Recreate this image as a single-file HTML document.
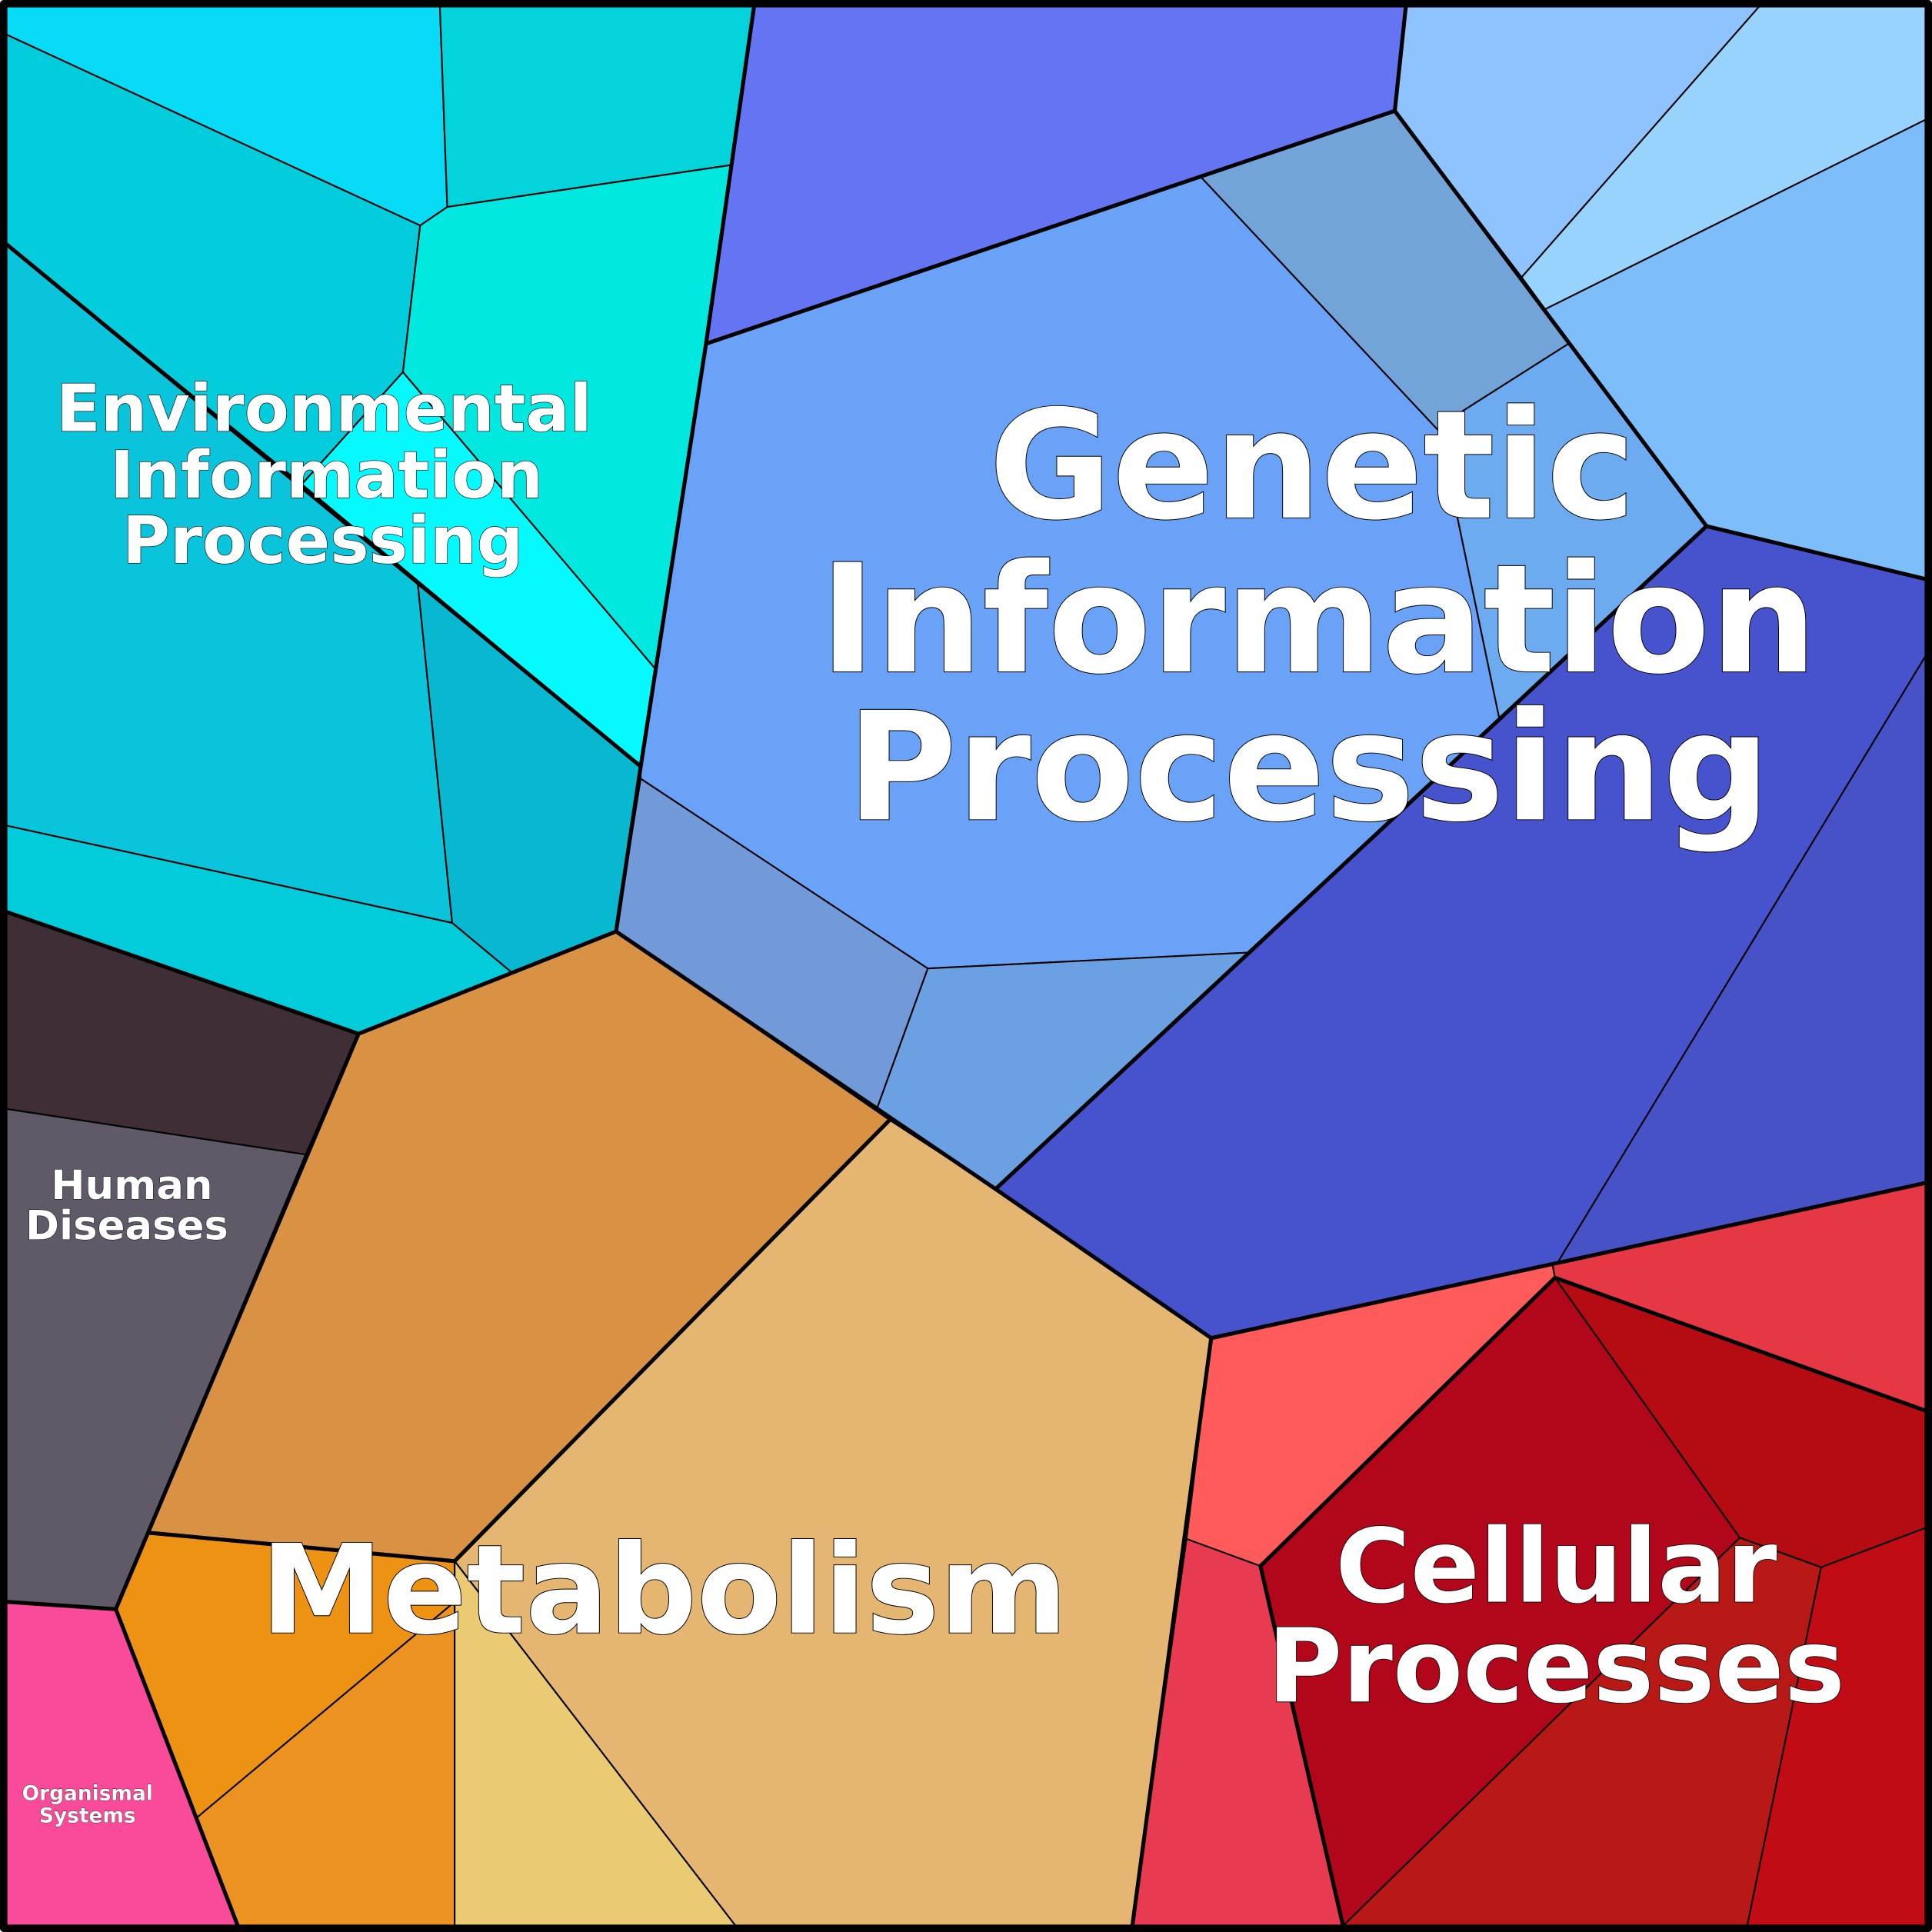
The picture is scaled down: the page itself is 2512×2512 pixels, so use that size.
<!DOCTYPE html>
<html><head><meta charset="utf-8"><style>
html,body{margin:0;padding:0;background:#fff}
svg{display:block}
text{font-family:"DejaVu Sans","Liberation Sans",sans-serif;font-weight:bold;fill:#fff;stroke:#000;text-anchor:middle;paint-order:stroke}
</style></head><body>
<svg width="2512" height="2512" viewBox="0 0 1568 1568" xmlns="http://www.w3.org/2000/svg">
<g stroke="#000" stroke-width="1.3" stroke-linejoin="round">
<polygon fill="#08DBF5" points="5,5 357,5 363,168 341,183 5,28"/>
<polygon fill="#03D4DC" points="357,5 612,5 593,134 363,168"/>
<polygon fill="#03CDDC" points="5,28 341,183 327,302 245,393 5,198"/>
<polygon fill="#00E8DF" points="363,168 593,134 573,279 532,543 327,302 341,183"/>
<polygon fill="#05FAFF" points="327,302 532,543 520,622 245,393"/>
<polygon fill="#0AC4DC" points="5,198 339,473 367,749 5,670"/>
<polygon fill="#08B8D0" points="339,473 520,622 500,756 415,789 367,749"/>
<polygon fill="#03CCDA" points="5,670 367,749 415,789 291,839 5,740"/>
<polygon fill="#3F2E35" points="5,740 291,839 248,937 5,900"/>
<polygon fill="#605A68" points="5,900 248,937 94,1306 5,1300"/>
<polygon fill="#FA4A9A" points="5,1300 94,1306 193,1563 5,1563"/>
<polygon fill="#D99244" points="291,839 500,756 722,909 369,1267 121,1244"/>
<polygon fill="#E4B672" points="722,909 808,965 983,1086 919,1563 597,1563 369,1267"/>
<polygon fill="#EE9213" points="121,1244 369,1267 369,1300 160,1475 94,1306"/>
<polygon fill="#EB9220" points="160,1475 369,1300 369,1563 193,1563"/>
<polygon fill="#EACA72" points="369,1267 597,1563 369,1563"/>
<polygon fill="#6474F2" points="612,5 1141,5 1132,90 975,144 573,279"/>
<polygon fill="#69A2F7" points="573,279 975,144 1168,350 1182,416 1217,584 1015,773 753,786 520,632 520,622"/>
<polygon fill="#729AD9" points="520,632 753,786 712,899 500,756"/>
<polygon fill="#6BA0E2" points="753,786 1015,773 808,965 712,899"/>
<polygon fill="#72A4DA" points="975,144 1132,90 1273,279 1188,333 1168,350"/>
<polygon fill="#6DABF1" points="1168,350 1188,333 1273,279 1385,427 1217,584 1182,416"/>
<polygon fill="#8FC3FD" points="1141,5 1428,5 1235,225 1132,90"/>
<polygon fill="#98D3FE" points="1428,5 1563,5 1563,97 1254,251 1235,225"/>
<polygon fill="#7DBDF9" points="1254,251 1563,97 1563,470 1385,427"/>
<polygon fill="#4752CD" points="1385,427 1563,470 1563,532 1264,1025 983,1086 808,965 1015,773 1217,584"/>
<polygon fill="#4652C5" points="1563,532 1563,960 1264,1025"/>
<polygon fill="#FF5B5B" points="983,1086 1260,1026 1262,1037 1023,1271 963,1249"/>
<polygon fill="#E63745" points="1260,1026 1563,960 1563,1145 1262,1037"/>
<polygon fill="#B2061A" points="1262,1037 1412,1248 1090,1563 1023,1271"/>
<polygon fill="#B40C12" points="1262,1037 1563,1145 1563,1240 1478,1272 1412,1248"/>
<polygon fill="#B81816" points="1412,1248 1478,1272 1418,1563 1090,1563"/>
<polygon fill="#C10B15" points="1478,1272 1563,1240 1563,1563 1418,1563"/>
<polygon fill="#E83A50" points="963,1249 1023,1271 1090,1563 919,1563"/>
</g>
<g fill="none" stroke="#000" stroke-width="3.2" stroke-linejoin="round">
<polyline points="612,5 573,279 520,622 500,756 291,839 5,740"/>
<polyline points="5,198 520,622"/>
<polyline points="291,839 94,1306 5,1300"/>
<polyline points="94,1306 193,1563"/>
<polyline points="500,756 808,965 983,1086 919,1563"/>
<polyline points="983,1086 1264,1025 1563,960"/>
<polyline points="573,279 1132,90 1141,5"/>
<polyline points="1132,90 1385,427 1563,470"/>
<polyline points="1385,427 808,965"/>
<polyline points="722,909 369,1267 121,1244"/>
<polyline points="1262,1037 1023,1271 1090,1563"/>
<polyline points="1262,1037 1563,1145"/>
<rect x="3" y="3" width="1562" height="1562" stroke-width="6"/>
</g>
<text x="1065" y="420" font-size="122" stroke-width="1.2">Genetic</text>
<text x="1070" y="545" font-size="122" stroke-width="1.2">Information</text>
<text x="1062" y="665" font-size="122" stroke-width="1.2">Processing</text>
<text x="539" y="1325" font-size="100" stroke-width="1.2">Metabolism</text>
<text x="1263" y="1300" font-size="83" stroke-width="1">Cellular</text>
<text x="1263" y="1381" font-size="83" stroke-width="1">Processes</text>
<text x="263" y="350" font-size="53" stroke-width="0.8">Environmental</text>
<text x="265" y="404" font-size="53" stroke-width="0.8">Information</text>
<text x="262" y="457" font-size="53" stroke-width="0.8">Processing</text>
<text x="107" y="973" font-size="33" stroke-width="0.6">Human</text>
<text x="103" y="1006" font-size="33" stroke-width="0.6">Diseases</text>
<text x="71" y="1461" font-size="16.5" stroke-width="0.4">Organismal</text>
<text x="71" y="1479" font-size="16.5" stroke-width="0.4">Systems</text>
</svg>
</body></html>
